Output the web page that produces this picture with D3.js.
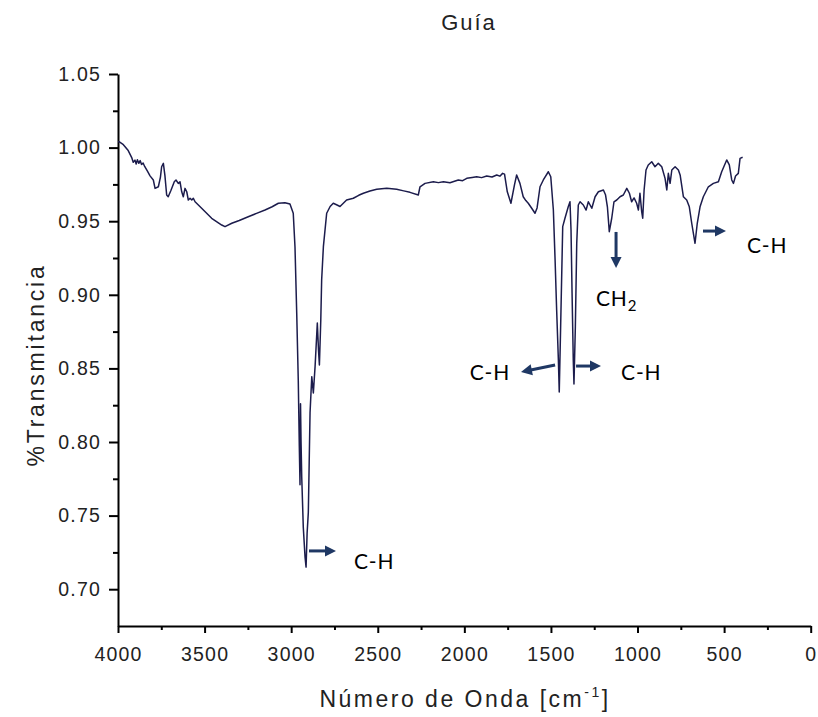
<!DOCTYPE html>
<html>
<head>
<meta charset="utf-8">
<script src="https://cdn.jsdelivr.net/npm/d3@7"></script>
<style>
  body { margin: 0; background: #fff; }
  svg { display: block; }
</style>
</head>
<body>
<svg id="chart" width="818" height="717"></svg>
<script>
// FTIR spectrum: wavenumber (cm^-1) and transmittance
const wavenumber = [
  4000, 3994, 3969, 3941, 3920, 3912, 3902, 3895, 3888, 3880, 3872, 3864, 3855, 3846, 3830, 3815,
  3796, 3786, 3767, 3755, 3748, 3738, 3729, 3719, 3710, 3694, 3675, 3665, 3652, 3642, 3632, 3623,
  3613, 3603, 3594, 3584, 3574, 3565, 3555, 3517, 3459, 3401, 3382, 3343, 3300, 3248, 3200, 3151,
  3110, 3074, 3036, 3007, 2988, 2978, 2968, 2959, 2953, 2949, 2946, 2943, 2939, 2930, 2920, 2914,
  2908, 2901, 2891, 2881, 2872, 2862, 2849, 2842, 2837, 2829, 2824, 2814, 2795, 2775, 2757, 2735,
  2718, 2699, 2680, 2641, 2610, 2583, 2545, 2506, 2448, 2391, 2350, 2314, 2266, 2256, 2227, 2179,
  2150, 2121, 2083, 2035, 2010, 1986, 1955, 1929, 1900, 1871, 1840, 1813, 1795, 1779, 1768, 1752,
  1731, 1710, 1698, 1679, 1660, 1645, 1631, 1611, 1592, 1580, 1563, 1544, 1515, 1501, 1486, 1476,
  1467, 1457, 1452, 1444, 1432, 1419, 1400, 1390, 1384, 1378, 1371, 1367, 1359, 1351, 1342, 1332,
  1313, 1297, 1284, 1264, 1245, 1226, 1197, 1185, 1174, 1163, 1149, 1136, 1120, 1101, 1082, 1062,
  1047, 1034, 1020, 1005, 995, 986, 976, 970, 962, 951, 938, 918, 899, 880, 860, 841,
  831, 822, 812, 802, 783, 764, 754, 735, 716, 701, 687, 668, 655, 639, 620, 591,
  562, 533, 514, 485, 470, 456, 446, 434, 418, 408, 393
];
const transmittance = [
  1.004, 1.004, 1.002, 0.998, 0.993, 0.990, 0.9915, 0.9888, 0.9918, 0.9893, 0.9912, 0.9886, 0.9895, 0.9872, 0.984, 0.9808,
  0.978, 0.9723, 0.9734, 0.980, 0.987, 0.9893, 0.981, 0.9678, 0.9666, 0.971, 0.9768, 0.978, 0.9757, 0.9768, 0.970, 0.9666,
  0.9723, 0.970, 0.9644, 0.9656, 0.9644, 0.9656, 0.9632, 0.9588, 0.952, 0.9474, 0.9463, 0.9486, 0.9505, 0.953, 0.9553, 0.9576,
  0.9598, 0.9622, 0.9626, 0.9617, 0.9554, 0.9327, 0.8876, 0.842, 0.797, 0.771, 0.826, 0.800, 0.776, 0.742, 0.722, 0.715,
  0.738, 0.752, 0.820, 0.8444, 0.8333, 0.8512, 0.8808, 0.862, 0.8523, 0.8829, 0.910, 0.9327, 0.9554, 0.9600, 0.9622, 0.9610,
  0.960, 0.9622, 0.9644, 0.9656, 0.9676, 0.969, 0.9705, 0.9717, 0.9724, 0.9717, 0.9706, 0.9696, 0.9678, 0.9734, 0.9757, 0.9768,
  0.9762, 0.9768, 0.9761, 0.978, 0.9775, 0.9791, 0.9797, 0.9802, 0.9796, 0.9807, 0.9800, 0.9814, 0.9806, 0.9825, 0.9820, 0.970,
  0.9622, 0.975, 0.9814, 0.9757, 0.9666, 0.9640, 0.9622, 0.9588, 0.9554, 0.959, 0.9734, 0.978, 0.9836, 0.9802, 0.9576, 0.9236,
  0.8897, 0.8557, 0.834, 0.8783, 0.9463, 0.952, 0.9598, 0.9632, 0.944, 0.901, 0.8557, 0.8394, 0.8783, 0.935, 0.961, 0.9632,
  0.961, 0.9576, 0.9632, 0.9588, 0.9666, 0.970, 0.9712, 0.968, 0.9598, 0.9429, 0.952, 0.9632, 0.9644, 0.9666, 0.9678, 0.9723,
  0.969, 0.9632, 0.9658, 0.9622, 0.9576, 0.969, 0.9565, 0.952, 0.9712, 0.9848, 0.9882, 0.9904, 0.987, 0.9893, 0.987, 0.9791,
  0.9712, 0.9825, 0.9757, 0.9848, 0.987, 0.9848, 0.9814, 0.9666, 0.9644, 0.9598, 0.9486, 0.935, 0.9486, 0.9598, 0.9666, 0.9734,
  0.9757, 0.9768, 0.9836, 0.9916, 0.9882, 0.978, 0.9757, 0.9807, 0.9825, 0.9927, 0.9934
];

const xTicks = [4000, 3500, 3000, 2500, 2000, 1500, 1000, 500, 0];
const xMinorTicks = [3750, 3250, 2750, 2250, 1750, 1250, 750, 250];
const yTicks = [0.70, 0.75, 0.80, 0.85, 0.90, 0.95, 1.00, 1.05];
const yMinorTicks = [0.725, 0.775, 0.825, 0.875, 0.925, 0.975, 1.025];

const titleText = "Guía";
const yTitle = "%Transmitancia";

// Band assignments: label anchor and arrow (in wavenumber / transmittance units)
const bandLabels = [
  { text: "C-H", sub: "",  wn: 2637, t: 0.7137, anchor: "start" },
  { text: "C-H", sub: "",  wn: 1736, t: 0.842,  anchor: "end" },
  { text: "C-H", sub: "",  wn: 1095, t: 0.842,  anchor: "start" },
  { text: "CH",  sub: "2", wn: 1240, t: 0.8924, anchor: "start" },
  { text: "C-H", sub: "",  wn: 368,  t: 0.9284, anchor: "start" }
];
const bandArrows = [
  { wn1: 2897, t1: 0.726,  wn2: 2741, t2: 0.726 },
  { wn1: 1476, t1: 0.8523, wn2: 1673, t2: 0.8476 },
  { wn1: 1355, t1: 0.8516, wn2: 1211, t2: 0.8516 },
  { wn1: 1124, t1: 0.9427, wn2: 1124, t2: 0.9182 },
  { wn1: 622,  t1: 0.9433, wn2: 489,  t2: 0.9433 }
];

const svg = d3.select("#chart");
const plotArea = { left: 118, right: 810.7, top: 74, bottom: 626 };

const x = d3.scaleLinear().domain([4000, 0]).range([plotArea.left, plotArea.right]);
const y = d3.scaleLinear().domain([0.675, 1.05]).range([plotArea.bottom, plotArea.top]);

const tickFont = "'Liberation Sans', Arial, sans-serif";

// x axis
svg.append("g").attr("transform", `translate(0,${plotArea.bottom})`)
  .call(d3.axisBottom(x).tickValues(xTicks).tickFormat(d3.format("d"))
    .tickSize(7).tickSizeOuter(0).tickPadding(14));
svg.append("g").attr("transform", `translate(0,${plotArea.bottom})`)
  .call(d3.axisBottom(x).tickValues(xMinorTicks).tickFormat("").tickSize(4).tickSizeOuter(0))
  .call(g => g.select(".domain").remove());

// y axis
svg.append("g").attr("transform", `translate(${plotArea.left},0)`)
  .call(d3.axisLeft(y).tickValues(yTicks).tickFormat(d3.format(".2f"))
    .tickSize(9).tickSizeOuter(0).tickPadding(8));
svg.append("g").attr("transform", `translate(${plotArea.left},0)`)
  .call(d3.axisLeft(y).tickValues(yMinorTicks).tickFormat("").tickSize(5).tickSizeOuter(0))
  .call(g => g.select(".domain").remove());

svg.selectAll(".domain, .tick line").attr("stroke", "#000").attr("stroke-width", 2);
svg.selectAll(".tick text")
  .attr("font-family", tickFont).attr("font-size", 19.5).attr("fill", "#222")
  .attr("letter-spacing", "1.2px");

// spectrum
const pts = wavenumber.map((w, i) => [w, transmittance[i]]);
svg.append("path")
  .datum(pts)
  .attr("fill", "none")
  .attr("stroke", "#1c1c4c")
  .attr("stroke-width", 1.5)
  .attr("stroke-linejoin", "round")
  .attr("d", d3.line().x(d => x(d[0])).y(d => y(d[1])));

// titles
svg.append("text")
  .attr("x", 469).attr("y", 30)
  .attr("text-anchor", "middle")
  .attr("font-family", tickFont).attr("font-size", 22).attr("fill", "#222")
  .attr("letter-spacing", "2px")
  .text(titleText);

const xl = svg.append("text")
  .attr("x", 465).attr("y", 707)
  .attr("text-anchor", "middle")
  .attr("font-family", tickFont).attr("font-size", 23).attr("fill", "#222")
  .attr("letter-spacing", "2.5px");
xl.append("tspan").text("Número de Onda [cm");
xl.append("tspan").attr("font-size", 14).attr("dy", -10).text("-1");
xl.append("tspan").attr("dy", 10).text("]");

svg.append("text")
  .attr("transform", "translate(44,365) rotate(-90)")
  .attr("text-anchor", "middle")
  .attr("font-family", tickFont).attr("font-size", 23).attr("fill", "#222")
  .attr("letter-spacing", "2.8px")
  .text(yTitle);

// band arrows
const arrowColor = "#1f3864";
bandArrows.forEach(a => {
  const x1 = x(a.wn1), y1 = y(a.t1), x2 = x(a.wn2), y2 = y(a.t2);
  const dx = x2 - x1, dy = y2 - y1, len = Math.hypot(dx, dy);
  const ux = dx / len, uy = dy / len;
  const headLen = 11, headHalf = 5.5;
  const bx = x2 - ux * headLen, by = y2 - uy * headLen;
  svg.append("line")
    .attr("x1", x1).attr("y1", y1).attr("x2", bx + ux).attr("y2", by + uy)
    .attr("stroke", arrowColor).attr("stroke-width", 3);
  svg.append("path")
    .attr("d", `M${x2},${y2}L${bx - uy * headHalf},${by + ux * headHalf}L${bx + uy * headHalf},${by - ux * headHalf}Z`)
    .attr("fill", arrowColor);
});

// band labels
bandLabels.forEach(b => {
  const t = svg.append("text")
    .attr("x", x(b.wn)).attr("y", y(b.t))
    .attr("text-anchor", b.anchor)
    .attr("font-family", "Lato, 'Open Sans', sans-serif")
    .attr("font-size", 21).attr("fill", "#000")
    .attr("letter-spacing", "0.8px");
  t.append("tspan").text(b.text);
  if (b.sub) t.append("tspan").attr("font-size", 15).attr("dy", 5).text(b.sub);
});
</script>
</body>
</html>
